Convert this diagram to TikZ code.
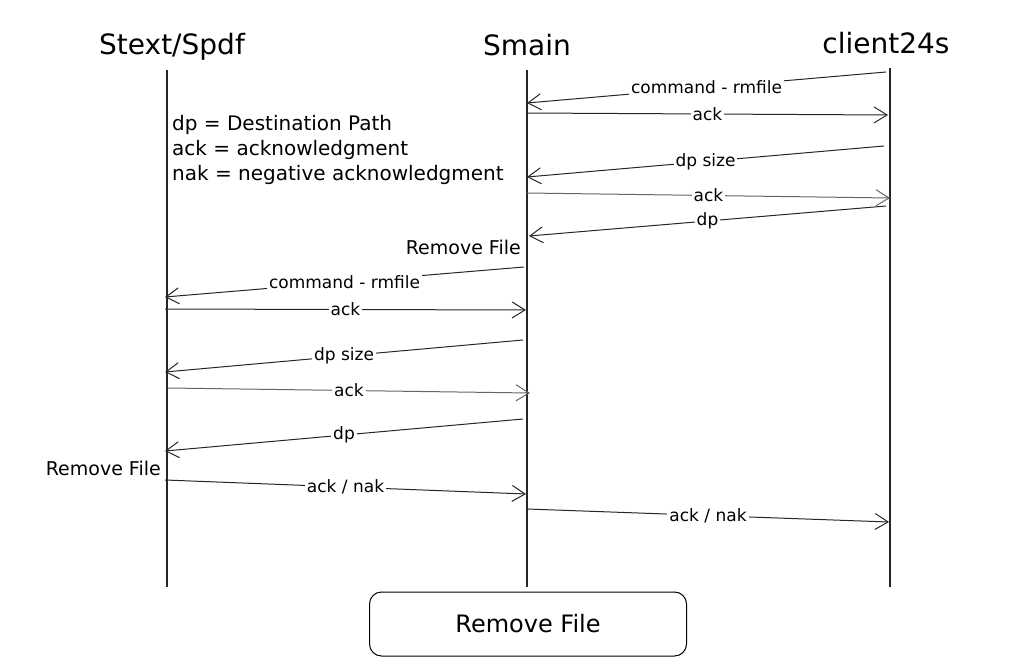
\documentclass[tikz,border=0pt]{standalone}
\usepackage{fontspec}
\setmainfont{DejaVu Sans}
\usepackage{tikz}
\usetikzlibrary{arrows.meta, positioning}
\tikzset{
  actor/.style={font=\fontsize{28}{30}\selectfont, inner sep=0pt},
  life/.style={line width=1.6pt, draw=black!85},
  msg/.style={-{Straight Barb[length=13pt, width=16pt, line width=1pt]},
              line width=1pt},
  lbl/.style={fill=white, inner sep=2pt, font=\fontsize{17}{19}\selectfont},
  legend/.style={font=\fontsize{20}{25}\selectfont, align=left, inner sep=0pt},
  rmnote/.style={font=\fontsize{19}{21}\selectfont, inner sep=0pt},
  rmbox/.style={draw, rounded corners=12pt, line width=1pt, minimum width=317pt,
                minimum height=64pt, font=\fontsize{24}{26}\selectfont}
}
\begin{document}
\begin{tikzpicture}[x=1pt, y=-1pt]
  \useasboundingbox (0,0) rectangle (1012,671);
  % actors and lifelines
  \node[actor] (stext) at (172,47) {Stext/Spdf};
  \node[actor] (smain) at (527,45) {Smain};
  \node[actor] (client) at (886,43) {client24s};
  \foreach \a/\x/\t in {stext/167/70, smain/527/70, client/890/68} {
    \coordinate (\a top) at (\x,\t);
    \coordinate (\a bot) at (\x,587);
    \draw[life] (\a top) -- (\a bot);
  }
  \node[legend, anchor=north west] (key) at (172,115)
    {dp = Destination Path\\ack = acknowledgment\\nak = negative acknowledgment};
  % messages
  \foreach \i/\xa/\ya/\xb/\yb/\c/\t in {
      1/886/72/527/103/black!85/{command - rmfile},
      2/527/113/888/115/black!85/ack,
      3/884/146/527/177/black!85/{dp size},
      4/527/193/890/198/black!60/ack,
      5/886/206/529/236/black!85/dp,
      6/524/267/165/297/black!85/{command - rmfile},
      7/165/309/526/310/black!85/ack,
      8/523/340/165/372/black!85/{dp size},
      9/168/388/530/393/black!60/ack,
      10/523/419/165/451/black!85/dp,
      11/165/480/526/494/black!85/{ack / nak},
      12/527/509/889/522/black!85/{ack / nak}} {
    \coordinate (m\i s) at (\xa,\ya);
    \coordinate (m\i e) at (\xb,\yb);
    \draw[msg, draw=\c] (m\i s) -- node[lbl] (t\i) {\t} (m\i e);
  }
  \node[rmnote, anchor=east] (rm1) at (521,247) {Remove File};
  \node[rmnote, anchor=east] (rm2) at (161,468) {Remove File};
  \node[rmbox] (rmfile) at (528,624) {Remove File};
\end{tikzpicture}
\end{document}
